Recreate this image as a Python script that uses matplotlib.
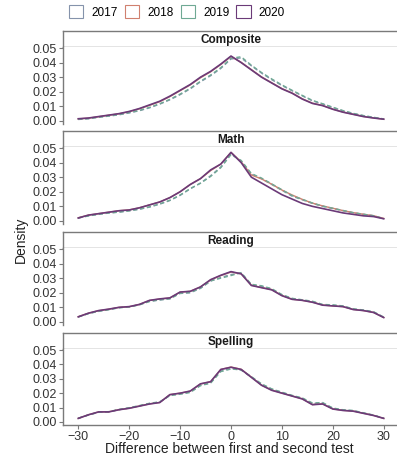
import matplotlib
matplotlib.use('Agg')
import matplotlib.pyplot as plt
from matplotlib.patches import Patch
import numpy as np

# difference between first and second test
x = np.arange(-30, 31, 2)

years = ['2017', '2018', '2019', '2020']
year_colors = ['#8593ab', '#d0806f', '#6fa994', '#6b3a78']
year_styles = [(0, (3, 2)), '-', (0, (3, 2)), '-']
year_widths = [1.0, 1.0, 1.0, 1.2]

subjects = ['Composite', 'Math', 'Reading', 'Spelling']

composite_2017 = [0.0010, 0.0015, 0.0025, 0.0033, 0.0042, 0.0055, 0.0070, 0.0090, 0.0115, 0.0145, 0.0180,
                  0.0220, 0.0268, 0.0310, 0.0360, 0.0425, 0.0432, 0.0378, 0.0328, 0.0283, 0.0243, 0.0207,
                  0.0172, 0.0138, 0.0116, 0.0092, 0.0069, 0.0051, 0.0036, 0.0024, 0.0013]
composite_2018 = [0.0014, 0.0019, 0.0029, 0.0039, 0.0049, 0.0063, 0.0083, 0.0107, 0.0132, 0.0167, 0.0207,
                  0.0247, 0.0296, 0.0337, 0.0387, 0.0442, 0.0402, 0.0352, 0.0302, 0.0262, 0.0222, 0.0192,
                  0.0152, 0.0122, 0.0106, 0.0081, 0.0061, 0.0046, 0.0031, 0.0021, 0.0012]
composite_2019 = [0.0011, 0.0016, 0.0026, 0.0034, 0.0044, 0.0057, 0.0072, 0.0093, 0.0118, 0.0148, 0.0184,
                  0.0224, 0.0272, 0.0315, 0.0365, 0.0430, 0.0440, 0.0382, 0.0332, 0.0288, 0.0247, 0.0210,
                  0.0175, 0.0141, 0.0118, 0.0094, 0.0071, 0.0052, 0.0037, 0.0025, 0.0014]
composite_2020 = [0.0015, 0.0020, 0.0030, 0.0040, 0.0050, 0.0065, 0.0085, 0.0110, 0.0135, 0.0170, 0.0210,
                  0.0250, 0.0300, 0.0340, 0.0390, 0.0445, 0.0400, 0.0350, 0.0300, 0.0260, 0.0220, 0.0190,
                  0.0150, 0.0120, 0.0105, 0.0080, 0.0060, 0.0045, 0.0030, 0.0020, 0.0012]

math_2017 = [0.0020, 0.0035, 0.0045, 0.0055, 0.0060, 0.0070, 0.0080, 0.0095, 0.0115, 0.0140, 0.0175,
             0.0220, 0.0260, 0.0310, 0.0370, 0.0460, 0.0410, 0.0320, 0.0290, 0.0250, 0.0210, 0.0170,
             0.0145, 0.0120, 0.0100, 0.0085, 0.0070, 0.0055, 0.0045, 0.0035, 0.0015]
math_2018 = [0.0022, 0.0040, 0.0050, 0.0060, 0.0070, 0.0076, 0.0090, 0.0110, 0.0130, 0.0160, 0.0200,
             0.0250, 0.0290, 0.0345, 0.0390, 0.0470, 0.0405, 0.0315, 0.0288, 0.0252, 0.0212, 0.0178,
             0.0148, 0.0122, 0.0103, 0.0087, 0.0071, 0.0057, 0.0046, 0.0036, 0.0017]
math_2019 = [0.0021, 0.0034, 0.0046, 0.0054, 0.0061, 0.0069, 0.0081, 0.0097, 0.0117, 0.0142, 0.0178,
             0.0222, 0.0258, 0.0305, 0.0365, 0.0455, 0.0415, 0.0325, 0.0294, 0.0254, 0.0214, 0.0174,
             0.0148, 0.0123, 0.0102, 0.0087, 0.0072, 0.0057, 0.0046, 0.0036, 0.0016]
math_2020 = [0.0020, 0.0040, 0.0050, 0.0060, 0.0070, 0.0075, 0.0090, 0.0110, 0.0130, 0.0160, 0.0200,
             0.0250, 0.0290, 0.0350, 0.0390, 0.0470, 0.0400, 0.0300, 0.0260, 0.0220, 0.0180, 0.0150,
             0.0120, 0.0100, 0.0085, 0.0070, 0.0055, 0.0045, 0.0035, 0.0030, 0.0015]

reading_2017 = [0.0035, 0.0058, 0.0072, 0.0085, 0.0098, 0.0104, 0.0118, 0.0142, 0.0150, 0.0160, 0.0195,
                0.0200, 0.0230, 0.0280, 0.0305, 0.0325, 0.0335, 0.0255, 0.0245, 0.0225, 0.0185, 0.0160,
                0.0150, 0.0140, 0.0118, 0.0115, 0.0108, 0.0088, 0.0080, 0.0068, 0.0032]
reading_2018 = [0.0036, 0.0060, 0.0077, 0.0087, 0.0100, 0.0104, 0.0120, 0.0147, 0.0157, 0.0164, 0.0204,
                0.0210, 0.0240, 0.0288, 0.0318, 0.0342, 0.0330, 0.0252, 0.0236, 0.0222, 0.0182, 0.0156,
                0.0148, 0.0136, 0.0116, 0.0110, 0.0105, 0.0086, 0.0078, 0.0065, 0.0031]
reading_2019 = [0.0034, 0.0057, 0.0074, 0.0084, 0.0097, 0.0103, 0.0117, 0.0140, 0.0152, 0.0158, 0.0197,
                0.0202, 0.0232, 0.0282, 0.0300, 0.0318, 0.0338, 0.0258, 0.0248, 0.0228, 0.0188, 0.0162,
                0.0152, 0.0142, 0.0120, 0.0117, 0.0110, 0.0090, 0.0082, 0.0070, 0.0033]
reading_2020 = [0.0035, 0.0060, 0.0078, 0.0088, 0.0100, 0.0105, 0.0120, 0.0148, 0.0158, 0.0165, 0.0205,
                0.0210, 0.0240, 0.0290, 0.0320, 0.0345, 0.0330, 0.0250, 0.0235, 0.0220, 0.0180, 0.0155,
                0.0148, 0.0135, 0.0115, 0.0110, 0.0105, 0.0085, 0.0078, 0.0065, 0.0030]

spelling_2017 = [0.0025, 0.0048, 0.0068, 0.0070, 0.0085, 0.0097, 0.0112, 0.0128, 0.0138, 0.0185, 0.0195,
                 0.0208, 0.0255, 0.0272, 0.0355, 0.0372, 0.0360, 0.0312, 0.0262, 0.0228, 0.0205, 0.0183,
                 0.0165, 0.0128, 0.0132, 0.0095, 0.0083, 0.0078, 0.0062, 0.0047, 0.0025]
spelling_2018 = [0.0025, 0.0050, 0.0070, 0.0071, 0.0086, 0.0096, 0.0111, 0.0126, 0.0136, 0.0190, 0.0200,
                 0.0214, 0.0264, 0.0280, 0.0365, 0.0382, 0.0366, 0.0312, 0.0256, 0.0222, 0.0201, 0.0181,
                 0.0161, 0.0121, 0.0126, 0.0091, 0.0081, 0.0076, 0.0061, 0.0046, 0.0025]
spelling_2019 = [0.0026, 0.0049, 0.0067, 0.0072, 0.0087, 0.0099, 0.0114, 0.0130, 0.0140, 0.0183, 0.0193,
                 0.0205, 0.0252, 0.0270, 0.0350, 0.0368, 0.0362, 0.0315, 0.0265, 0.0230, 0.0207, 0.0185,
                 0.0167, 0.0132, 0.0135, 0.0097, 0.0085, 0.0080, 0.0064, 0.0048, 0.0026]
spelling_2020 = [0.0025, 0.0050, 0.0070, 0.0070, 0.0085, 0.0095, 0.0110, 0.0125, 0.0135, 0.0190, 0.0200,
                 0.0215, 0.0265, 0.0280, 0.0365, 0.0380, 0.0365, 0.0310, 0.0255, 0.0220, 0.0200, 0.0180,
                 0.0160, 0.0120, 0.0125, 0.0090, 0.0080, 0.0075, 0.0060, 0.0045, 0.0025]

data = {
    'Composite': [composite_2017, composite_2018, composite_2019, composite_2020],
    'Math': [math_2017, math_2018, math_2019, math_2020],
    'Reading': [reading_2017, reading_2018, reading_2019, reading_2020],
    'Spelling': [spelling_2017, spelling_2018, spelling_2019, spelling_2020],
}

W, H = 397, 457
fig = plt.figure(figsize=(W / 100, H / 100), dpi=100)
plt.rcParams['font.family'] = ['Liberation Sans', 'DejaVu Sans']

frame_col = '#7a7a7a'
left_px, right_px = 63, 399
# (box top, strip bottom, panel bottom) in pixels from top
panel_px = [(31, 47, 124), (131, 147, 224), (232, 248, 325), (333, 349, 425)]


def fig_rect(x0, y_top, x1, y_bot):
    return [x0 / W, 1 - y_bot / H, (x1 - x0) / W, (y_bot - y_top) / H]


for i, subj in enumerate(subjects):
    top, strip_bot, bot = panel_px[i]
    # strip header
    sax = fig.add_axes(fig_rect(left_px, top, right_px, strip_bot))
    sax.set_xticks([])
    sax.set_yticks([])
    for sp in sax.spines.values():
        sp.set_color(frame_col)
        sp.set_linewidth(1.0)
    sax.text(0.5, 0.45, subj, transform=sax.transAxes, ha='center', va='center',
             fontsize=8.5, fontweight='bold', color='#1a1a1a')

    ax = fig.add_axes(fig_rect(left_px, strip_bot, right_px, bot))
    for vals, col, ls, lw in zip(data[subj], year_colors, year_styles, year_widths):
        ax.plot(x, vals, color=col, linestyle=ls, linewidth=lw)
    ax.set_xlim(-33, 33)
    ax.set_ylim(-0.0021, 0.0507)
    ax.set_yticks([0, 0.01, 0.02, 0.03, 0.04, 0.05])
    ax.set_yticklabels(['0.00', '0.01', '0.02', '0.03', '0.04', '0.05'])
    ax.set_xticks([-30, -20, -10, 0, 10, 20, 30])
    for sp in ['top', 'right']:
        ax.spines[sp].set_visible(False)
    for sp in ['left', 'bottom']:
        ax.spines[sp].set_color(frame_col)
        ax.spines[sp].set_linewidth(1.0)
    ax.tick_params(axis='both', colors=frame_col, labelcolor='#333333', labelsize=9,
                   length=3, width=0.8, pad=1.5)
    if i < 3:
        ax.spines['bottom'].set_visible(False)
        ax.tick_params(axis='x', length=0, labelbottom=False)

fig.text(0.5 * (left_px + right_px) / W - 0.005, 1 - 449 / H, 'Difference between first and second test',
         ha='center', va='center', fontsize=10, color='#222222')
fig.text(21 / W, 1 - 240 / H, 'Density', rotation=90, ha='center', va='center',
         fontsize=10, color='#222222')

handles = [Patch(facecolor='white', edgecolor=c, linewidth=0.8) for c in year_colors]
fig.legend(handles, years, loc='center left', bbox_to_anchor=(69 / W, 1 - 12 / H), ncol=4,
           frameon=False, fontsize=8.5, handlelength=1.2, handleheight=1.2, columnspacing=0.6,
           handletextpad=0.7, borderaxespad=0, borderpad=0)

fig.savefig('out.png', dpi=100)
